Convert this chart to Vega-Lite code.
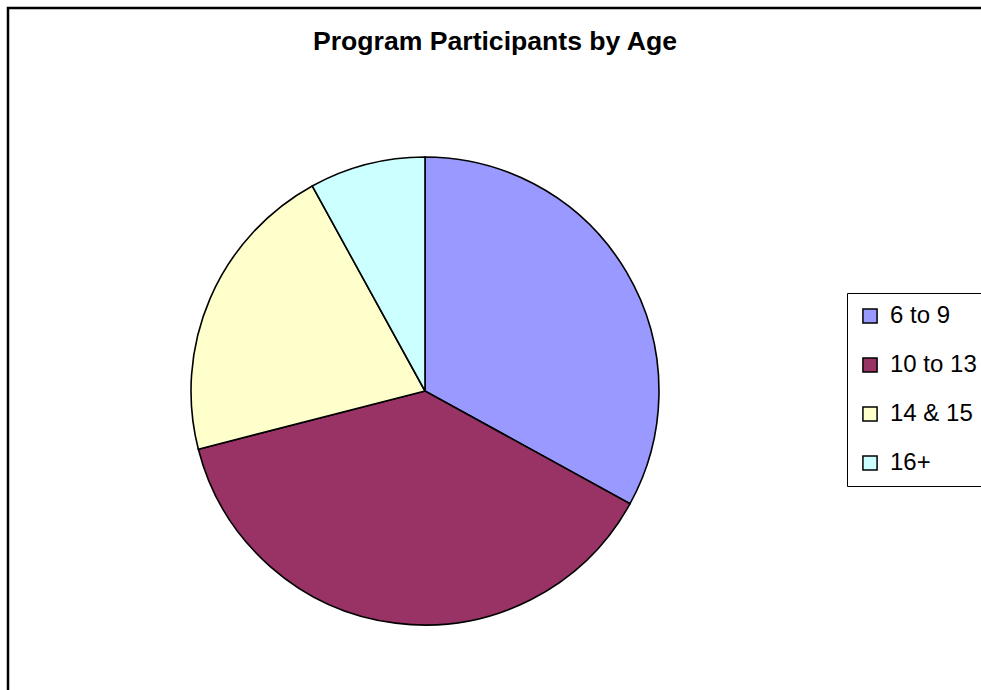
{
  "$schema": "https://vega.github.io/schema/vega-lite/v6.json",
  "width": 983,
  "height": 692,
  "autosize": {"type": "none"},
  "padding": {"left": 8, "top": 8, "right": -10, "bottom": -10},
  "background": "white",
  "view": {"stroke": "black", "strokeWidth": 2.5},
  "title": {
    "text": "Program Participants by Age",
    "font": "Liberation Sans",
    "fontSize": 26.6,
    "fontWeight": "bold",
    "color": "black",
    "anchor": "start",
    "baseline": "alphabetic",
    "offset": -69,
    "dx": 305
  },
  "data": {
    "values": [
      {"age": "6 to 9", "share": 33, "order": 1},
      {"age": "10 to 13", "share": 38, "order": 2},
      {"age": "14 & 15", "share": 21, "order": 3},
      {"age": "16+", "share": 8, "order": 4}
    ]
  },
  "mark": {"type": "arc", "radius": 234, "x": 417, "y": 383, "stroke": "black", "strokeWidth": 1.6},
  "encoding": {
    "theta": {"field": "share", "type": "quantitative", "stack": true},
    "order": {"field": "order", "type": "quantitative"},
    "color": {
      "field": "age",
      "type": "nominal",
      "sort": ["6 to 9", "10 to 13", "14 & 15", "16+"],
      "scale": {"domain": ["6 to 9", "10 to 13", "14 & 15", "16+"], "range": ["#9999FF", "#993366", "#FFFFCC", "#CCFFFF"]},
      "legend": {
        "title": null,
        "orient": "none",
        "legendX": 839,
        "legendY": 285,
        "strokeColor": "black",
        "fillColor": "white",
        "padding": 11,
        "rowPadding": 25,
        "symbolType": "square",
        "symbolSize": 200,
        "symbolStrokeColor": "black",
        "symbolStrokeWidth": 1.5,
        "symbolOpacity": 1,
        "labelFont": "Liberation Sans",
        "labelFontSize": 24,
        "labelColor": "black",
        "labelOffset": 8
      }
    }
  }
}
